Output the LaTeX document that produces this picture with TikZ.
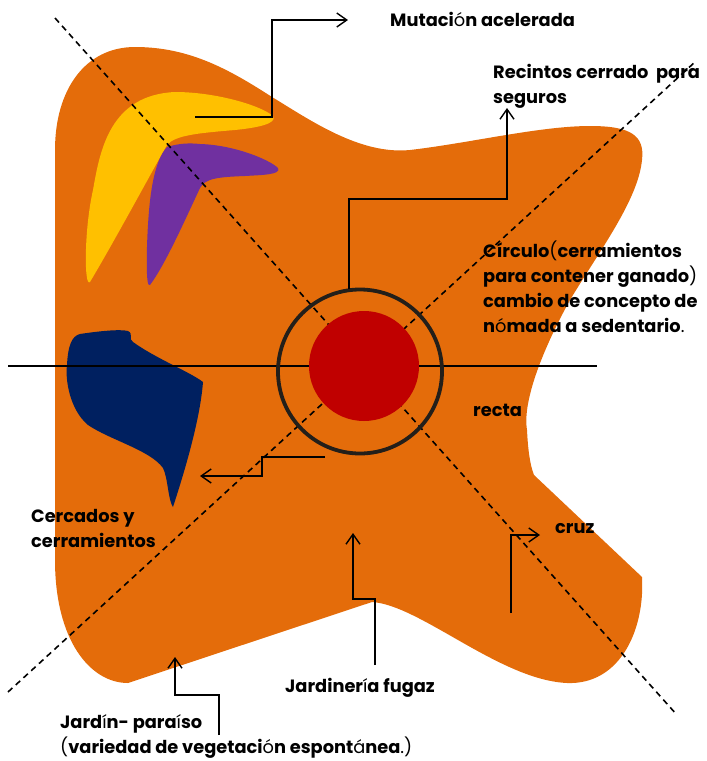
\documentclass[tikz,border=0pt]{standalone}
\usepackage{fontspec}
\setmainfont{Poppins}
\usetikzlibrary{arrows.meta}
\definecolor{orng}{HTML}{E46C0A}
\definecolor{yell}{HTML}{FFC000}
\definecolor{purp}{HTML}{7030A0}
\definecolor{navy}{HTML}{002060}
\definecolor{redc}{HTML}{C00000}
\definecolor{ringc}{HTML}{231F1A}
\newcommand\lite[1]{{\mdseries #1}}
\begin{document}
\begin{tikzpicture}[x=1pt,y=-1pt,
  lbl/.style={font=\bfseries\fontsize{17.8}{25}\selectfont, anchor=base west, inner sep=0pt, align=left},
  conn/.style={line width=1.4pt, -{Straight Barb[length=10pt,width=14pt,line width=1.4pt]}},
  guide/.style={line width=1.6pt, dash pattern=on 6pt off 4.5pt}]
\useasboundingbox (0,0) rectangle (707,761);
% main orange shape
\fill[orng] (55,560) -- (55,150)
  .. controls (55,90) and (85,47) .. (135,47)
  .. controls (190,47) and (230,70) .. (272,97)
  .. controls (310,120) and (360,155) .. (410,150)
  .. controls (470,143) and (540,126) .. (590,126)
  .. controls (630,126) and (645,135) .. (642,160)
  .. controls (638,200) and (600,250) .. (570,300)
  .. controls (545,345) and (522,400) .. (527,430)
  .. controls (528,450) and (530,465) .. (534,475)
  -- (642,577)
  .. controls (645,630) and (620,685) .. (567,683)
  .. controls (500,680) and (420,605) .. (372,602)
  -- (128,683)
  .. controls (90,683) and (55,640) .. (55,560) -- cycle;
% yellow
\fill[yell] (175,92) .. controls (215,92) and (260,105) .. (273,116)
  .. controls (278,124) and (255,128) .. (235,130)
  .. controls (200,133) and (175,135) .. (167,145)
  .. controls (150,175) and (115,240) .. (90,282)
  .. controls (84,288) and (84,230) .. (93,190)
  .. controls (100,150) and (110,95) .. (175,92) -- cycle;
% purple
\fill[purp] (167,147) .. controls (180,143) and (190,143) .. (200,144)
  .. controls (235,145) and (270,160) .. (278,168)
  .. controls (282,175) and (260,175) .. (245,176)
  .. controls (220,177) and (205,178) .. (200,188)
  .. controls (185,220) and (165,265) .. (150,285)
  .. controls (145,290) and (147,240) .. (148,225)
  .. controls (150,190) and (155,160) .. (167,147) -- cycle;
% navy
\fill[navy] (80,334) .. controls (100,331) and (120,329) .. (128,331)
  .. controls (134,334) and (128,339) .. (133,342)
  .. controls (155,358) and (190,372) .. (203,382)
  .. controls (200,420) and (185,470) .. (173,507)
  .. controls (168,500) and (168,478) .. (163,468)
  .. controls (150,450) and (110,440) .. (88,425)
  .. controls (70,410) and (65,380) .. (67,365)
  .. controls (68,345) and (72,336) .. (80,334) -- cycle;
% guide lines
\coordinate (d1a) at (55,18);  \coordinate (d1b) at (677,715);
\coordinate (d2a) at (8,692);  \coordinate (d2b) at (695,62);
\coordinate (ha) at (8,366);   \coordinate (hb) at (597,366);
\draw[guide] (d1a) -- (d1b);
\draw[guide] (d2a) -- (d2b);
\draw[line width=1.4pt] (ha) -- (hb);
% circles
\fill[redc] (364,366) circle[radius=55];
\draw[ringc, line width=3.8pt] (360,371.5) circle[radius=82];
% labels (base = baseline of the last line)
\node[lbl] (mut) at (390,26) {Mutaci\lite{ó}n acelerada};
\node[lbl] (rec) at (493,103) {Recintos cerrado\ \ para\\seguros};
\node[lbl] (circ) at (483,332) {Círculo\lite{(}cerramientos\\para contener ganado\lite{)}\\cambio de concepto de\\n\lite{ó}mada a sedentario\lite{.}};
\node[lbl] (recta) at (473,416) {recta};
\node[lbl] (cruz) at (555,533) {cruz};
\node[lbl] (cerc) at (31,547) {Cercados y\\cerramientos};
\node[lbl] (jf) at (285,692) {Jardiner\lite{í}a fugaz};
\node[lbl] (jp) at (60,753) {Jard\lite{í}n- para\lite{í}so\\\lite{(}variedad de vegetaci\lite{ó}n espont\lite{á}nea\lite{.)}};
% connectors
\coordinate (m0) at (195,117); \coordinate (m1) at (348,20);
\draw[conn] (m0) -- ++(77,0) |- (m1);
\coordinate (r0) at (349,289); \coordinate (r1) at (507,108);
\draw[conn] (r0) -- ++(0,-90) -| (r1);
\coordinate (c0) at (325,457); \coordinate (c1) at (200,476);
\draw[conn] (c0) -- ++(-63,0) |- (c1);
\coordinate (j0) at (375,665); \coordinate (j1) at (353,533);
\draw[conn] (j0) -- ++(0,-66) -| (j1);
\coordinate (z0) at (511,613); \coordinate (z1) at (540,535);
\draw[conn] (z0) |- (z1);
\coordinate (p0) at (219,735); \coordinate (p1) at (175,657);
\draw[conn] (p0) -- ++(0,-40) -| (p1);
\end{tikzpicture}
\end{document}
